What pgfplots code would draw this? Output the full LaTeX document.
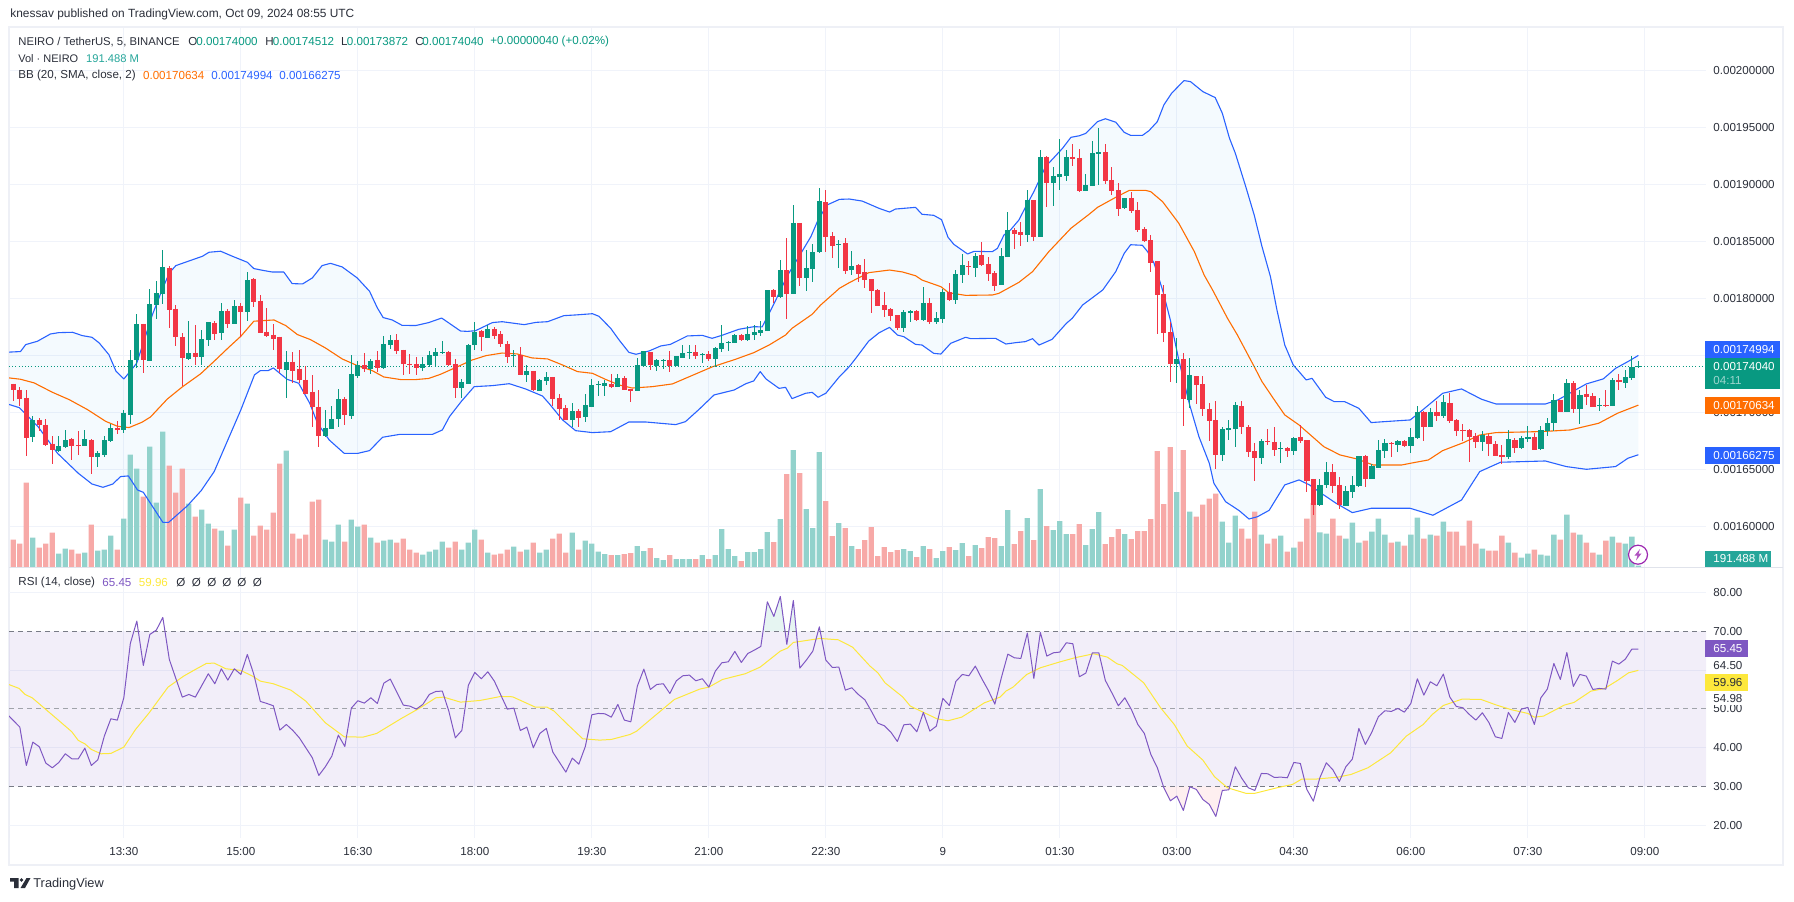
\documentclass[border=0pt]{standalone}
\usepackage{fontspec}
\setmainfont{Liberation Sans}
\usepackage{pgfplots}
\usepackage{pgfplotstable}
\pgfplotsset{compat=1.18}
\usepgfplotslibrary{fillbetween}

\definecolor{upc}{HTML}{089981}
\definecolor{dnc}{HTML}{F23645}
\definecolor{upv}{HTML}{92D2CC}
\definecolor{dnv}{HTML}{F7A9A7}
\definecolor{bbb}{HTML}{2962FF}
\definecolor{bbo}{HTML}{FF6D00}
\definecolor{bbf}{HTML}{2196F3}
\definecolor{gridc}{HTML}{F0F3FA}
\definecolor{framec}{HTML}{EEF0F6}
\definecolor{sepc}{HTML}{E0E3EB}
\definecolor{txt}{HTML}{2A2E39}
\definecolor{rsic}{HTML}{7E57C2}
\definecolor{rsiy}{HTML}{FDE83C}
\definecolor{dashc}{HTML}{787B86}
\definecolor{volt}{HTML}{26A69A}
\definecolor{boltc}{HTML}{9C27B0}

\newcommand{\tv}{\fontsize{5.8pt}{7pt}\selectfont}

% prices in units of 0.00001, v = volume bar on a relative scale
\pgfplotstableread{
i o h l c v
0 172.52 172.52 171.03 171.99 656
1 171.99 172.26 170.53 171.20 560
2 171.29 171.99 166.20 167.78 2024
3 167.87 169.71 167.43 169.33 704
4 169.36 169.54 168.40 168.92 464
5 168.92 169.45 167.02 167.17 560
6 167.26 167.90 165.50 166.73 824
7 166.64 167.96 166.58 167.08 320
8 167.00 168.48 166.90 167.61 440
9 167.69 167.78 165.85 167.08 416
10 167.17 168.40 166.29 167.08 320
11 167.08 168.48 167.08 167.69 344
12 167.61 167.69 164.62 166.11 1016
13 166.11 166.64 165.24 166.47 392
14 166.29 167.96 166.06 167.61 416
15 167.52 169.01 167.43 168.66 752
16 168.66 169.27 168.13 168.48 416
17 168.48 170.24 168.22 169.97 1160
18 169.80 175.50 169.01 174.62 2696
19 174.62 178.66 173.92 177.78 2360
20 177.78 177.78 173.48 174.62 1688
21 174.54 180.82 174.54 179.54 2888
22 179.45 181.55 178.22 180.50 1544
23 180.41 184.27 179.54 182.78 3248
24 182.69 182.87 177.43 179.01 2432
25 179.10 179.45 175.85 176.64 1784
26 176.64 176.99 172.34 174.80 2360
27 174.71 178.04 174.62 175.24 1520
28 175.24 177.69 174.18 174.89 1208
29 174.89 177.26 174.18 176.47 1376
30 176.38 177.96 175.85 177.96 1040
31 177.87 178.04 176.38 176.90 920
32 176.99 179.62 176.38 178.92 872
33 178.92 179.10 177.43 177.78 512
34 177.78 179.89 177.78 179.36 896
35 179.36 179.62 176.64 178.83 1664
36 178.83 182.34 178.04 181.64 1520
37 181.73 181.82 179.27 179.71 752
38 179.80 180.33 176.99 176.99 992
39 177.08 179.18 176.64 176.73 896
40 176.82 177.78 175.50 176.47 1304
41 176.64 176.64 173.48 173.83 2480
42 173.75 175.41 171.29 174.45 2792
43 174.45 175.33 172.61 173.66 800
44 173.83 175.50 172.61 172.87 680
45 172.87 174.10 171.64 171.64 776
46 171.82 173.31 168.75 170.50 1568
47 170.50 171.99 167.00 167.96 1616
48 167.96 170.24 167.87 168.66 656
49 168.57 170.59 168.57 169.45 608
50 169.45 172.08 168.75 171.20 1016
51 171.20 171.38 168.92 169.80 608
52 169.71 175.06 169.45 173.40 1136
53 173.22 174.54 173.04 174.18 968
54 174.18 175.24 173.57 173.80 1016
55 173.83 174.71 173.40 174.54 704
56 174.62 175.41 173.57 173.92 584
57 173.92 176.73 173.83 176.03 632
58 175.94 176.82 175.59 176.38 656
59 176.38 176.90 175.15 175.41 584
60 175.50 175.50 173.31 174.27 680
61 174.27 175.15 173.40 174.21 416
62 174.27 174.89 173.31 173.92 344
63 173.92 174.89 173.66 174.27 296
64 174.15 175.38 174.01 175.03 368
65 174.94 175.64 174.06 175.29 416
66 175.23 176.26 175.20 175.29 608
67 175.29 175.38 174.06 174.15 464
68 174.24 174.68 171.26 172.13 608
69 172.13 172.92 171.26 172.66 416
70 172.49 176.00 172.49 175.91 584
71 175.91 177.92 175.47 177.05 896
72 177.13 177.22 175.38 176.61 656
73 176.52 177.66 176.52 177.31 344
74 177.31 177.49 176.43 176.70 296
75 176.87 177.13 175.73 176.00 320
76 176.00 176.26 174.33 174.85 416
77 174.97 175.47 173.98 175.03 488
78 175.03 175.73 173.27 173.27 368
79 173.27 174.15 172.66 173.63 416
80 173.63 173.63 171.87 171.96 584
81 171.87 172.92 171.87 172.84 344
82 172.75 173.54 172.40 173.10 416
83 173.10 173.10 170.55 171.17 680
84 171.26 171.61 169.33 170.29 800
85 170.38 170.64 169.33 169.33 344
86 169.33 170.82 168.71 170.12 824
87 170.12 170.29 168.71 169.50 416
88 169.59 171.61 169.15 170.64 632
89 170.47 172.92 170.47 172.40 560
90 172.43 172.75 171.43 172.49 368
91 172.31 172.84 171.43 172.57 312
92 172.49 173.36 172.13 172.22 288
93 172.22 173.36 172.22 173.01 288
94 173.01 173.19 171.96 171.96 312
95 172.05 172.05 170.91 171.87 336
96 171.87 174.77 171.87 174.15 504
97 174.06 175.38 174.06 175.38 384
98 175.29 175.29 173.71 174.15 456
99 174.06 174.68 173.63 174.59 216
100 174.47 174.68 173.80 174.59 168
101 174.59 175.38 173.54 174.06 288
102 174.06 174.94 174.06 174.94 192
103 174.77 175.91 174.77 175.20 192
104 175.23 175.91 174.68 175.29 192
105 175.29 175.91 174.68 174.94 192
106 175.03 175.20 174.33 175.12 288
107 175.12 175.38 174.50 174.68 192
108 174.68 175.73 173.98 175.64 288
109 175.55 177.66 175.29 176.08 912
110 176.11 176.26 175.38 176.17 432
111 176.08 176.87 176.08 176.78 264
112 176.78 176.87 176.26 176.34 144
113 176.34 177.57 176.26 176.87 360
114 176.78 177.66 176.34 177.05 360
115 176.96 178.01 176.70 177.22 432
116 177.13 180.73 177.13 180.73 840
117 180.73 180.82 179.59 180.12 600
118 180.12 183.36 180.03 182.49 1152
119 182.49 185.29 178.19 180.38 2232
120 180.38 188.19 180.38 186.61 2808
121 186.61 186.61 181.08 181.78 2256
122 181.78 184.24 180.64 182.66 1392
123 182.57 184.77 181.43 184.06 936
124 184.06 189.68 183.98 188.54 2760
125 188.45 189.50 184.06 185.38 1584
126 185.47 185.82 183.54 184.59 744
127 184.71 185.12 182.66 184.77 1056
128 184.85 185.29 182.13 182.40 936
129 182.48 184.15 182.04 182.83 504
130 182.92 183.01 181.43 182.13 432
131 182.31 183.45 180.90 181.60 648
132 181.69 181.69 178.71 180.64 960
133 180.73 180.82 179.32 179.32 264
134 179.41 180.55 178.36 178.97 480
135 179.06 179.15 178.01 178.45 360
136 178.53 178.53 177.22 177.39 408
137 177.39 178.97 177.04 178.80 432
138 178.71 178.97 177.92 178.89 384
139 178.89 178.97 178.01 178.10 240
140 178.10 180.99 178.01 179.59 504
141 179.59 180.03 177.75 177.92 432
142 177.92 178.80 177.75 178.27 216
143 178.18 180.82 177.83 180.55 384
144 180.55 181.34 179.76 179.85 480
145 179.85 182.48 179.50 182.13 408
146 182.04 183.89 181.34 182.92 576
147 182.83 183.27 182.04 182.77 264
148 182.66 183.97 181.87 183.71 528
149 183.80 184.94 182.83 182.92 456
150 183.01 183.62 181.52 182.13 720
151 182.22 182.39 180.64 181.08 696
152 181.17 184.41 181.17 183.71 504
153 183.62 187.57 183.62 185.99 1368
154 185.99 186.17 184.32 185.64 552
155 185.82 186.69 184.59 185.55 864
156 185.55 189.50 184.94 188.62 1176
157 188.62 188.62 185.03 185.38 648
158 185.38 193.01 185.38 192.40 1872
159 192.40 192.48 188.01 190.11 984
160 190.11 191.52 188.10 190.73 888
161 190.64 193.97 189.50 190.90 1104
162 190.73 193.01 190.29 192.40 792
163 192.40 193.53 191.60 192.22 792
164 192.31 193.10 189.32 189.41 1032
165 189.41 190.90 189.41 189.94 528
166 189.85 193.80 189.85 192.75 912
167 192.66 194.94 189.94 192.83 1320
168 192.83 193.53 190.03 190.29 552
169 190.38 191.52 189.06 189.41 720
170 189.50 190.11 187.22 187.83 912
171 187.92 188.80 187.83 188.80 792
172 188.80 189.32 187.48 187.66 672
173 187.75 188.45 185.82 185.99 864
174 186.08 186.25 184.94 185.03 864
175 185.11 185.55 182.31 183.10 1152
176 183.27 183.27 176.87 180.29 2784
177 180.38 181.17 176.17 176.96 1512
178 177.04 177.92 172.66 174.24 2880
179 174.24 176.52 172.57 174.68 1800
180 174.68 175.20 168.80 171.17 2808
181 171.08 174.76 170.38 173.27 1328
182 173.18 173.18 170.73 172.39 1208
183 172.48 173.18 169.67 170.29 1496
184 170.29 170.82 167.48 169.24 1640
185 169.32 170.99 165.03 166.25 1760
186 166.25 168.71 165.73 168.53 1088
187 168.45 169.32 167.57 168.62 584
188 168.53 170.90 166.96 170.64 1232
189 170.55 170.99 168.10 168.71 920
190 168.71 168.88 166.08 166.52 680
191 166.60 167.31 163.97 165.99 1328
192 165.99 167.66 165.46 167.48 776
193 167.48 168.53 167.13 167.39 560
194 167.40 168.71 166.17 166.70 680
195 166.78 167.40 165.56 166.87 752
196 166.87 166.93 166.08 166.61 368
197 166.61 167.84 166.26 167.75 464
198 167.84 168.89 167.31 167.49 608
199 167.57 167.57 163.01 163.98 1160
200 164.15 164.15 161.00 161.87 1536
201 161.87 164.15 161.78 163.63 832
202 163.63 165.64 163.36 164.77 800
203 164.77 165.47 162.92 163.54 1160
204 163.63 164.33 161.52 161.87 752
205 161.78 163.54 161.78 163.10 680
206 163.01 164.42 162.49 163.63 1064
207 163.54 166.17 163.45 166.17 584
208 166.17 166.26 163.45 164.15 632
209 164.15 165.47 164.15 165.29 848
210 165.12 167.57 165.12 166.70 1160
211 166.61 167.66 166.00 167.31 776
212 167.31 167.40 166.08 167.25 584
213 167.14 167.57 166.52 167.49 608
214 167.49 167.57 166.96 167.05 512
215 167.05 168.62 166.43 167.84 776
216 167.75 170.55 167.66 170.03 1184
217 170.03 170.12 167.49 168.71 680
218 168.71 170.38 168.71 170.03 776
219 170.03 171.00 169.24 169.68 752
220 169.68 171.52 169.50 170.91 1088
221 170.82 171.70 169.07 169.24 848
222 169.33 169.42 167.92 168.36 848
223 168.45 168.98 167.49 168.39 512
224 168.45 168.54 165.64 167.84 1112
225 167.92 168.19 166.87 167.40 560
226 167.40 168.36 166.61 168.01 440
227 167.92 168.10 166.17 167.22 392
228 167.22 167.49 166.17 166.17 392
229 166.26 167.13 165.47 166.08 752
230 166.08 168.45 165.91 167.66 584
231 167.57 167.75 166.43 166.87 344
232 166.87 167.92 166.78 167.75 224
233 167.66 168.80 167.40 167.84 320
234 167.84 168.19 166.70 166.70 416
235 166.78 168.80 166.70 168.45 296
236 168.36 169.50 167.92 169.07 272
237 169.07 171.61 168.36 171.08 776
238 171.08 171.08 170.03 170.03 656
239 170.03 172.92 170.03 172.57 1256
240 172.57 172.75 169.94 170.29 824
241 170.29 171.96 168.98 171.52 776
242 171.61 172.40 170.64 171.35 584
243 171.43 171.70 170.47 170.47 344
244 170.55 171.26 170.12 170.64 296
245 170.64 171.96 170.47 170.55 632
246 170.55 173.01 170.55 172.84 728
247 172.84 173.36 171.96 172.66 584
248 172.57 173.71 172.14 173.10 560
249 173.01 174.94 172.84 173.98 728
250 174.00 174.51 173.87 174.04 32
}\candles

\pgfplotstableread{
i p
-1 175.27
1.1 175.33
1.9 175.94
3.7 176.23
5.7 176.87
7 176.99
9.1 177.02
10.6 176.73
12.1 176.58
13.2 176.09
14.7 175.06
15.8 173.60
17 172.93
18 173.60
19 174.33
21.4 178.57
22.9 180.76
24 182.23
25 182.87
29.1 183.69
30.1 184.04
31.9 184.13
33.7 183.69
36 183.16
37 182.61
38.3 182.46
39.8 182.31
41.6 182.31
42.9 181.29
44.5 181.26
46 181.79
47.5 182.87
48.8 183.07
50.6 182.75
52.9 181.79
54.8 180.62
56 179.16
56.9 178.31
58.3 178.10
59.8 177.63
61.9 177.61
63.9 177.87
65.9 178.27
68.8 177.13
69.9 177.10
71.1 177.16
73.7 177.87
75.2 177.95
78.6 177.69
80.4 177.89
82.2 177.95
84.7 178.48
86.5 178.54
89.1 178.65
90.1 178.42
91.9 177.37
93.2 176.34
94.7 175.26
95.8 175.09
97.8 175.38
99.6 175.82
101.1 175.96
103.7 176.70
106 176.75
107.5 176.49
109 176.75
111.6 177.28
113.9 177.51
115.2 177.49
116.8 179.27
117.8 180.44
119 181.90
122.7 185.41
123.8 186.87
125.2 188.19
127.1 188.68
128.6 188.71
130.6 188.53
133.2 187.89
134.8 187.57
135.7 187.83
138.8 187.98
139.8 187.37
141.6 187.28
142.8 186.90
143.8 185.35
144.7 184.73
146.8 183.89
147.8 184.12
150.6 184.09
151.4 184.38
152.4 185.55
153.4 185.99
154.7 186.87
155.7 187.98
157 189.35
158.8 191.55
161.4 193.15
162.7 194.12
164 194.26
165 194.47
166.8 195.50
168 195.75
169.6 195.45
170.9 194.56
171.9 194.29
173.7 194.29
174.7 194.70
176 195.50
177 196.96
178.2 197.99
180.1 199.10
181.1 199.01
183 198.13
184.9 197.61
186 196.23
187.1 194.04
188 192.72
189.6 189.80
190.9 187.31
192.1 184.54
193.4 181.90
194.4 178.98
195.6 175.91
196.9 174.16
198.9 172.84
199.8 172.98
201.9 171.32
203.2 170.94
204.8 170.94
207 170.35
208.9 169.10
210.9 169.18
214.9 169.33
216.5 170.06
219.9 171.67
222.8 172.05
225.9 171.14
228.1 170.73
235.7 170.73
237.6 171.08
240.8 172.11
242 172.49
244.6 172.93
246.5 173.86
248.4 174.45
250 174.99
}\bbup

\pgfplotstableread{
i p
-1 173.04
1.1 172.90
3.2 172.58
6 171.76
8.6 171.11
11.4 170.24
14.2 169.21
16 168.78
17.8 168.66
19.8 169.13
21.1 169.59
23.7 171.17
26 172.23
28.8 173.37
30.9 174.48
33.2 175.73
35 176.67
37 177.99
38.3 178.04
40.1 178.10
41.9 177.61
43.7 176.82
45.7 176.38
48 175.65
50.6 174.68
52.9 174.10
55.2 173.66
57 173.10
59.6 172.87
61.9 172.87
63.9 172.97
65.7 173.33
67.8 173.86
70.6 174.59
72.7 174.97
75.2 175.20
77.5 175.12
79.8 174.77
82.2 174.68
84.5 174.15
86.8 173.57
89.1 173.42
91.1 172.89
93.2 172.40
95.2 172.13
98.3 172.25
101.4 172.49
103.4 172.98
107.5 173.98
111.1 174.65
113.9 175.23
116.3 175.91
118.8 176.78
119.8 177.37
122.9 178.60
124.2 179.41
127.1 180.88
128.6 181.37
131.6 182.25
134.8 182.48
136.8 182.31
138.8 181.98
139.8 181.60
142.7 181.02
143.9 180.49
146.5 180.26
150.6 180.29
151.6 180.43
154.7 181.40
156.8 182.34
159.3 184.09
162.7 186.14
165.5 187.37
166.8 187.98
169.6 188.86
171.7 189.47
174.2 189.47
175 189.35
176.8 188.48
179.3 186.58
181.7 184.09
183.2 182.04
184.5 180.73
186.8 178.24
188.3 176.80
190.9 174.01
192.1 172.69
194 171.09
195.6 169.77
197.8 168.89
201.6 166.99
204.1 166.26
206.7 165.91
209.2 165.38
213.6 165.38
215.5 165.59
217.7 165.82
219.9 166.64
223.1 167.34
225.6 168.01
228.1 168.22
235.1 168.31
239.5 168.45
243.9 169.04
246.8 169.92
250 170.63
}\bbmid

\pgfplotstableread{
i p
-1 170.75
0.9 170.41
1.8 169.91
3.8 168.74
6.8 166.40
10 164.65
12.1 163.71
13.8 163.42
15.3 163.71
16.5 164.36
17.7 164.42
19.1 163.19
20 162.98
23 160.35
23.9 160.35
26.8 161.81
28.9 163.13
30.9 164.80
33 167.57
35 170.21
37.1 173.28
38 173.66
39.2 173.66
40 173.89
42.1 172.90
43.9 172.55
45.6 170.79
46.8 169.04
48.6 167.57
50.9 166.40
53 166.40
54.8 166.64
56.8 167.81
59.5 168.07
64.5 168.07
66 168.45
67.1 169.62
68.9 170.94
70.9 172.25
73.7 172.34
76.3 172.51
78.8 172.05
81.4 171.43
82.4 170.79
84.5 169.33
86.5 168.39
89.1 168.22
91.9 168.30
94.7 169.15
97.3 169.15
101.9 168.92
103.4 169.18
105.5 170.26
107.8 171.52
110.9 171.96
112.7 172.51
113.9 172.75
114.9 173.57
115.8 172.92
117.8 172.10
118.8 172.19
119.8 171.20
121.9 171.67
122.9 171.75
123.8 171.32
125 171.67
127.1 173.13
128.6 174.00
129.8 174.88
131.6 176.25
133.2 176.98
134.8 177.45
136 176.78
137 176.63
138.8 175.96
139.8 175.90
141.6 175.17
142.7 175.11
144.2 176.05
146.5 176.58
147.3 176.46
151.1 176.49
152.7 175.99
154.2 176.11
155.7 176.20
156.8 176.46
157.8 175.90
159.8 176.40
162 177.80
162.9 178.24
164.5 179.41
167.6 180.73
169.6 182.34
170.9 183.94
171.9 184.70
173.7 184.65
174.5 184.09
175.5 183.07
176.8 180.73
178 178.10
179.3 174.59
180.9 170.79
182.4 167.86
184 165.52
184.7 163.77
186.5 162.16
188.6 161.37
190.1 160.64
191.4 160.84
193.2 161.40
195.6 163.63
197.8 164.07
199.4 163.63
201.6 162.75
203.5 162.02
206 161.20
208.9 161.58
214.9 161.58
218.4 160.97
222.8 162.31
225.6 164.80
228.8 165.62
235.7 165.73
238.9 165.24
242 165.00
246.5 165.24
248.4 165.97
250 166.28
}\bblow

\pgfplotstableread{
i r
-1 48.75
1 45.31
2 35.42
3 41.44
4 40.24
5 36.02
6 34.82
7 36.19
8 38.43
9 37.14
10 37.14
11 39.89
12 35.42
13 36.88
14 42.99
15 47.46
16 47.12
17 52.88
18 66.90
19 72.67
20 61.23
21 69.23
22 70.34
23 73.61
24 62.77
25 57.87
26 53.05
27 53.74
28 53.05
29 56.07
30 59.08
31 56.50
32 60.37
33 57.44
34 60.37
35 58.90
36 64.06
37 58.90
38 51.94
39 51.42
40 50.82
41 44.54
42 46.00
43 44.45
44 42.56
45 39.98
46 37.40
47 32.84
48 35.08
49 37.83
50 43.25
51 40.32
52 50.22
53 52.11
54 51.51
55 52.88
56 51.42
57 56.67
58 57.70
59 54.34
60 50.99
61 50.73
62 49.96
63 51.16
64 53.74
65 54.52
66 54.60
67 49.44
68 42.56
69 44.45
70 56.07
71 59.42
72 57.79
73 59.59
74 57.18
75 53.57
76 49.96
77 50.22
78 44.45
79 45.31
80 39.98
81 43.68
82 44.97
83 38.86
84 36.28
85 33.70
86 37.31
87 35.76
88 40.32
89 48.50
90 48.84
91 48.75
92 47.89
93 51.16
94 47.12
95 46.69
96 55.89
97 60.28
98 55.03
99 56.32
100 56.50
101 54.00
102 57.27
103 58.56
104 58.73
105 57.27
106 57.79
107 55.63
108 59.76
109 61.91
110 62.17
111 64.84
112 62.00
113 64.32
114 65.18
115 66.13
116 77.66
117 73.87
118 79.03
119 66.65
120 78.00
121 60.54
122 62.60
123 64.93
124 71.20
125 62.60
126 60.71
127 60.80
128 54.86
129 55.46
130 53.74
131 52.37
132 49.44
133 46.34
134 45.66
135 44.02
136 41.61
137 45.91
138 46.09
139 44.11
140 49.10
141 44.28
142 45.57
143 52.71
144 50.90
145 57.10
146 58.90
147 58.56
148 61.05
149 57.79
150 54.78
151 51.25
152 58.04
153 64.15
154 63.20
155 63.03
156 69.57
157 57.87
158 69.74
159 63.64
160 64.49
161 64.67
162 67.08
163 66.82
164 58.30
165 59.25
166 64.49
167 64.49
168 57.36
169 54.17
170 50.82
171 52.88
172 49.87
173 46.00
174 43.68
175 38.26
176 34.82
177 29.66
178 26.30
179 27.50
180 23.81
181 29.92
182 29.23
183 26.65
184 25.36
185 22.26
186 28.97
187 29.14
188 35.08
189 32.07
190 29.66
191 28.97
192 33.36
193 33.27
194 32.32
195 32.41
196 32.24
197 36.19
198 35.94
199 29.23
200 26.21
201 32.24
202 36.11
203 34.30
204 31.29
205 35.08
206 37.05
207 44.97
208 40.84
209 44.02
210 47.98
211 49.53
212 49.36
213 50.13
214 49.18
215 51.42
216 57.79
217 53.57
218 57.01
219 55.98
220 58.99
221 53.05
222 50.65
223 50.30
224 48.58
225 47.12
226 49.01
227 46.52
228 42.82
229 42.39
230 49.10
231 46.52
232 49.96
233 50.39
234 46.00
235 52.88
236 55.12
237 61.74
238 57.61
239 64.58
240 55.81
241 58.90
242 58.47
243 55.03
244 55.29
245 55.12
246 62.34
247 61.57
248 62.86
249 65.45
250 65.45
}\rsi

\pgfplotstableread{
i r
-1 56.50
0.9 55.29
1.8 53.74
2.9 52.88
4.4 50.73
6.8 47.29
9 44.11
10 41.87
11 41.01
12 39.55
13.5 38.43
15 38.52
17 40.15
18.8 44.71
20.9 49.01
23.8 55.63
26.2 58.47
28 60.19
29.7 61.74
30.9 61.83
32.7 60.37
35 59.94
36.8 58.47
38 57.18
40 56.50
42.7 54.86
45 52.02
48 46.43
50.9 42.82
53.8 42.73
55.9 43.68
59.7 47.55
62.6 50.30
65 52.88
66.2 53.05
68.8 51.76
71.8 52.19
75 53.23
76.8 53.14
80.3 50.47
82.1 50.47
83.2 49.44
85 46.43
87.6 42.30
90.2 41.96
92 42.13
94.9 43.42
95.9 44.28
97.9 47.12
101.7 52.45
105.6 55.12
107 55.63
109.1 57.61
112.6 59.08
114.9 60.80
118 64.93
119.1 65.70
120 67.16
124.1 68.19
126.9 67.85
129.1 65.96
131.8 61.05
133 59.33
134.1 56.75
136.8 53.14
138 50.73
142.1 47.46
143.8 46.95
145.9 47.89
149.4 51.59
151.8 53.05
152.7 54.60
153.8 55.63
155.9 58.90
158 60.62
160.9 62.09
163.3 63.20
166.2 64.24
168.3 63.38
169.8 61.66
170.6 61.23
173.9 56.75
176.5 50.30
178.6 46.00
180.6 40.41
183 36.80
184.8 32.50
186.8 29.66
189.7 28.19
190.9 28.19
194.4 29.66
196.8 30.52
198.2 31.89
200.3 31.89
203.8 32.41
205.8 33.10
208.4 34.82
211.9 38.69
214.3 42.99
216.9 46.00
218.3 48.58
220 50.90
222.9 52.54
225.8 52.45
228.2 50.99
230.5 49.79
233 48.84
234 47.89
235.4 48.15
238.6 50.99
240.1 51.68
242.7 54.60
244.8 55.29
246.8 57.36
248.5 59.33
250 59.96
}\rsima

\begin{document}
\begin{tikzpicture}

% outer frame
\begin{scope}[x=0.5pt,y=-0.5pt,yshift=450.5pt]
\draw[framec,line width=1pt] (9,27) rectangle (1783,865);
\end{scope}

\pgfplotsset{
  tvaxis/.style={
    scale only axis,
    anchor=south west,
    width=848.5pt,
    xmin=-0.666, xmax=260.41,
    axis line style={draw=none},
    major tick length=0pt,
    xtick={17,35,53,71,89,107,125,143,161,179,197,215,233,251},
    xmajorgrids, ymajorgrids,
    grid style={gridc,line width=0.5pt},
    yticklabel pos=right,
    tick label style={font=\tv,text=txt},
    yticklabel style={anchor=west,inner sep=0pt,xshift=3.5pt},
    unbounded coords=discard,
  },
}

% price pane
\begin{axis}[tvaxis,
    at={(4.5pt,167pt)},
    height=270pt,
    ymin=156.43, ymax=203.80,
    xticklabels={},
    ytick={160,165,170,175,180,185,190,195,200},
    yticklabels={0.00160000,0.00165000,0.00170000,,0.00180000,0.00185000,0.00190000,0.00195000,0.00200000},
]
% volume, set against the bottom of the pane
\addplot[ybar,bar shift=0pt,bar width=2.65pt,draw=none,fill=upv] table[x=i,
    y expr={\thisrow{c}>=\thisrow{o} ? 156.43+0.003654*\thisrow{v} : nan}] {\candles};
\addplot[ybar,bar shift=0pt,bar width=2.65pt,draw=none,fill=dnv] table[x=i,
    y expr={\thisrow{c}<\thisrow{o} ? 156.43+0.003654*\thisrow{v} : nan}] {\candles};

% Bollinger bands
\addplot[name path=up,bbb,line width=0.55pt,line join=round] table[x=i,y=p] {\bbup};
\addplot[name path=lo,bbb,line width=0.55pt,line join=round] table[x=i,y=p] {\bblow};
\addplot[bbf,fill opacity=0.05,draw=none] fill between[of=up and lo];
\addplot[bbo,line width=0.55pt,line join=round] table[x=i,y=p] {\bbmid};

% last price
\addplot[upc,line width=0.5pt,dash pattern=on 0.5pt off 1.1pt] coordinates {(-0.666,174.04)(260.41,174.04)};

% wicks
\addplot[draw=none,mark=none,forget plot,error bars/.cd,y dir=both,y explicit,error mark=none,
    error bar style={upc,line width=0.5pt}]
  table[x=i,y expr={\thisrow{c}>=\thisrow{o} ? \thisrow{o} : nan},
    y error plus expr=\thisrow{h}-\thisrow{o},y error minus expr=\thisrow{o}-\thisrow{l}] {\candles};
\addplot[draw=none,mark=none,forget plot,error bars/.cd,y dir=both,y explicit,error mark=none,
    error bar style={dnc,line width=0.5pt}]
  table[x=i,y expr={\thisrow{c}<\thisrow{o} ? \thisrow{o} : nan},
    y error plus expr=\thisrow{h}-\thisrow{o},y error minus expr=\thisrow{o}-\thisrow{l}] {\candles};
% bodies
\addplot[draw=none,mark=none,forget plot,error bars/.cd,y dir=plus,y explicit,error mark=none,
    error bar style={upc,line width=2.65pt}]
  table[x=i,y expr={\thisrow{c}>=\thisrow{o} ? \thisrow{o} : nan},
    y error plus expr=\thisrow{c}-\thisrow{o}] {\candles};
\addplot[draw=none,mark=none,forget plot,error bars/.cd,y dir=minus,y explicit,error mark=none,
    error bar style={dnc,line width=2.65pt}]
  table[x=i,y expr={\thisrow{c}<\thisrow{o} ? \thisrow{o} : nan},
    y error minus expr=\thisrow{o}-\thisrow{c}] {\candles};
\end{axis}

% RSI pane
\begin{axis}[tvaxis,
    at={(4.5pt,31.5pt)},
    height=135pt,
    ymin=16.70, ymax=86.37,
    xticklabels={13:30,15:00,16:30,18:00,19:30,21:00,22:30,9,01:30,03:00,04:30,06:00,07:30,09:00},
    xticklabel style={anchor=center,inner sep=0pt,yshift=-6.85pt},
    xticklabel shift=0pt,
    ytick={20,40,60,80},
    yticklabels={20.00,40.00,,80.00},
    extra y ticks={30,50,70},
    extra y tick labels={30.00,50.00,70.00},
    extra y tick style={grid=none},
]
\addplot[draw=none,fill=rsic,fill opacity=0.1] coordinates {(-0.666,30)(260.41,30)(260.41,70)(-0.666,70)} \closedcycle;
\addplot[draw=none,fill=upc,fill opacity=0.1] coordinates {(115.4,70)(116,77.66)(117,73.87)(118,79.03)(118.7,70)};
\addplot[draw=none,fill=upc,fill opacity=0.1] coordinates {(119.3,70)(120,78.00)(120.45,70)};
\addplot[draw=none,fill=dnc,fill opacity=0.08] coordinates {(176.9,30)(177,29.66)(178,26.30)(179,27.50)(180,23.81)(181,29.92)(181.5,30)};
\addplot[draw=none,fill=dnc,fill opacity=0.08] coordinates {(181.5,30)(182,29.23)(183,26.65)(184,25.36)(185,22.26)(186,28.97)(187,29.14)(187.15,30)};
\addplot[dashc,line width=0.5pt,dash pattern=on 2.5pt off 2pt] coordinates {(-0.666,70)(260.41,70)};
\addplot[dashc,line width=0.5pt,dash pattern=on 2.5pt off 2pt] coordinates {(-0.666,30)(260.41,30)};
\addplot[dashc!70,line width=0.5pt,dash pattern=on 2.5pt off 2pt] coordinates {(-0.666,50)(260.41,50)};
\addplot[rsiy,line width=0.5pt,line join=round] table[x=i,y=r] {\rsima};
\addplot[rsic,line width=0.5pt,line join=round] table[x=i,y=r] {\rsi};
\end{axis}

% everything below is in pixels of the 1794x901 image
\begin{scope}[x=0.5pt,y=-0.5pt,yshift=450.5pt,font=\tv,text=txt,
    every node/.style={inner sep=0pt,anchor=west}]
\draw[sepc,line width=0.5pt] (9,567.6) -- (1783,567.6);

\node[font=\fontsize{5.95pt}{7pt}\selectfont] at (10,14.7) {knessav published on TradingView.com, Oct 09, 2024 08:55 UTC};

% legend, price pane
\node[font=\fontsize{5.65pt}{7pt}\selectfont] at (18,41.7) {NEIRO / TetherUS, 5, BINANCE};
\node at (188,41.7) {O};
\node[text=upc] at (196,41.7) {0.00174000};
\node at (265,41.7) {H};
\node[text=upc] at (272.5,41.7) {0.00174512};
\node at (340.6,41.7) {L};
\node[text=upc] at (346.5,41.7) {0.00173872};
\node at (415,41.7) {C};
\node[text=upc] at (422,41.7) {0.00174040};
\node[text=upc] at (490,41.7) {+0.00000040 (+0.02\%)};
\node[font=\fontsize{5.5pt}{7pt}\selectfont] at (18,58.7) {Vol · NEIRO};
\node[text=volt,font=\fontsize{5.6pt}{7pt}\selectfont] at (85.7,58.7) {191.488 M};
\node at (18,76) {BB (20, SMA, close, 2)};
\node[text=bbo] at (142.7,76) {0.00170634};
\node[text=bbb] at (211,76) {0.00174994};
\node[text=bbb] at (279,76) {0.00166275};

% legend, RSI pane
\node at (18,582.7) {RSI (14, close)};
\node[text=rsic] at (102,582.7) {65.45};
\node[text=rsiy] at (138.5,582.7) {59.96};
\node at (176,582.7) {Ø};
\node at (191.5,582.7) {Ø};
\node at (207,582.7) {Ø};
\node at (222,582.7) {Ø};
\node at (237,582.7) {Ø};
\node at (252.5,582.7) {Ø};

% price scale badges
\fill[bbb] (1705,341) rectangle (1780,358);
\node[text=white] at (1713,349.5) {0.00174994};
\fill[upc] (1705,358) rectangle (1780,389);
\node[text=white] at (1713,366.5) {0.00174040};
\node[text=upc!40] at (1713,381) {04:11};
\fill[bbo] (1705,397) rectangle (1780,414);
\node[text=white] at (1713,405.5) {0.00170634};
\fill[bbb] (1705,447) rectangle (1780,464);
\node[text=white] at (1713,455.5) {0.00166275};
\fill[volt] (1705,551) rectangle (1771,567);
\node[text=white] at (1713,559) {191.488 M};

% RSI scale badges
\node at (1713,665.7) {64.50};
\fill[white] (1712,693) rectangle (1745,705);
\node at (1713,699) {54.98};
\fill[rsic] (1705,640) rectangle (1748,657);
\node[text=white] at (1713,648.5) {65.45};
\fill[rsiy] (1705,674) rectangle (1748,691);
\node at (1713,682.5) {59.96};

% bolt button over the last bar
\draw[boltc,fill=white,line width=0.6pt] (1638,554.7) circle [radius=9.5];
\fill[boltc!80] (1640,549) -- (1634.5,555.5) -- (1637.5,555.5) -- (1636,560.5) -- (1641.5,553.5) -- (1638.5,553.5) -- cycle;

% footer logo
\fill[txt] (10,878) -- (18.5,878) -- (18.5,888) -- (14,888) -- (14,881.5) -- (10,881.5) -- cycle;
\fill[txt] (21.5,880) circle [radius=1.9];
\fill[txt] (26.5,878) -- (30.5,878) -- (25,888) -- (20.5,888) -- cycle;
\node[font=\fontsize{6.4pt}{8pt}\selectfont] at (33,883.7) {TradingView};
\end{scope}

\pgfresetboundingbox
\useasboundingbox (0,0) rectangle (897pt,450.5pt);
\end{tikzpicture}
\end{document}
